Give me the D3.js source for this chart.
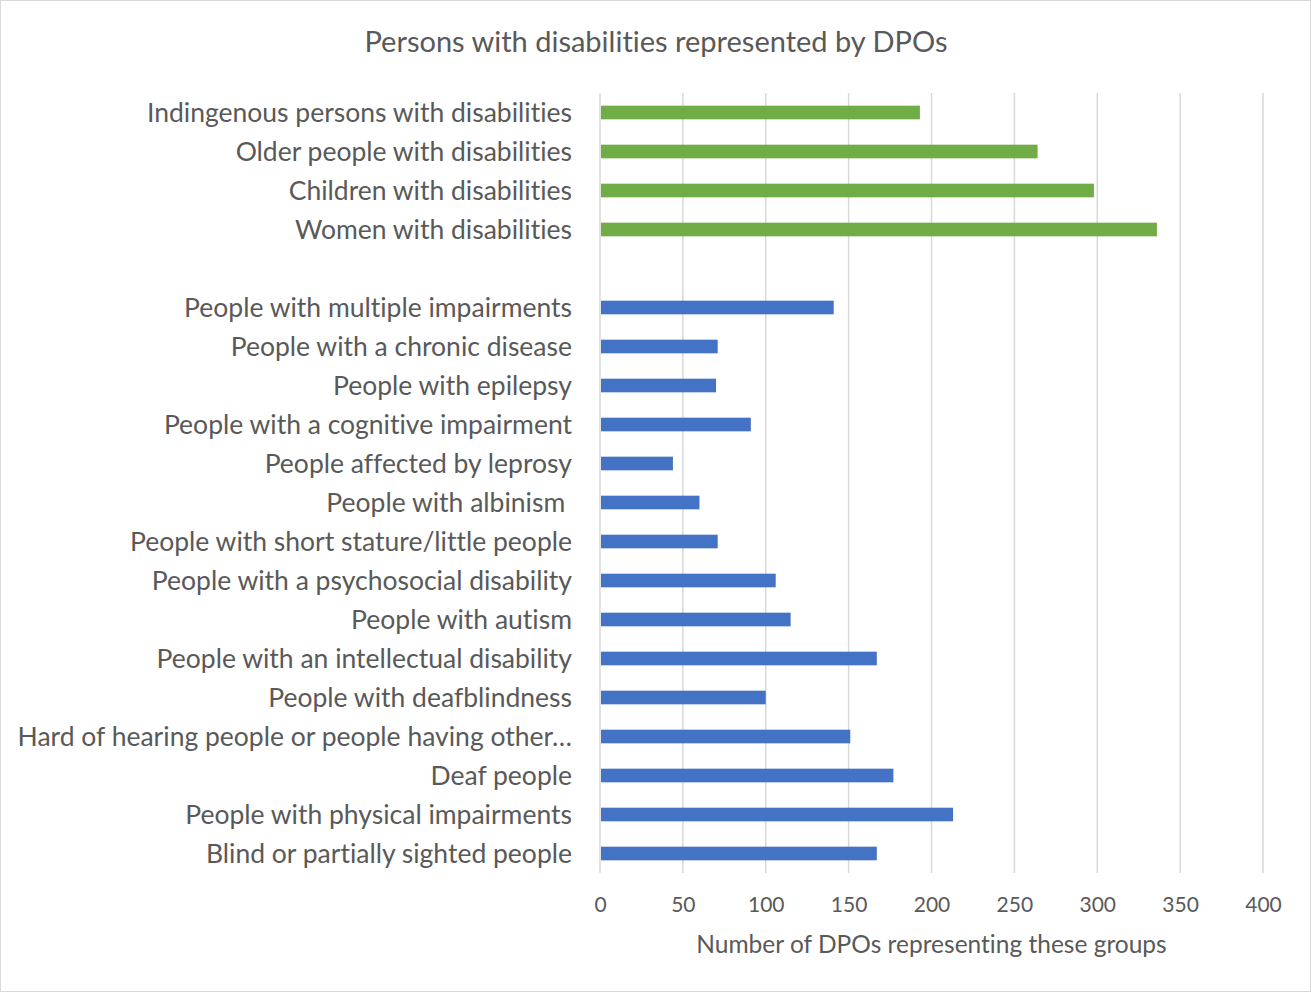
<!DOCTYPE html>
<html>
<head>
<meta charset="utf-8">
<script src="https://cdn.jsdelivr.net/npm/d3@7"></script>
<style>
  html, body { margin: 0; padding: 0; background: #fff; }
  svg { display: block; }
  text { font-family: Lato, "Open Sans", sans-serif; fill: #595959; font-variant-ligatures: none; }
</style>
</head>
<body>
<svg id="chart" width="1311" height="992"></svg>
<script>
const categories = [
  "Indingenous persons with disabilities",
  "Older people with disabilities",
  "Children with disabilities",
  "Women with disabilities",
  "",
  "People with multiple impairments",
  "People with a chronic disease",
  "People with epilepsy",
  "People with a cognitive impairment",
  "People affected by leprosy",
  "People with albinism ",
  "People with short stature/little people",
  "People with a psychosocial disability",
  "People with autism",
  "People with an intellectual disability",
  "People with deafblindness",
  "Hard of hearing people or people having other…",
  "Deaf people",
  "People with physical impairments",
  "Blind or partially sighted people"
];
const values = [193, 264, 298, 336, null, 141, 71, 70, 91, 44, 60, 71, 106, 115, 167, 100, 151, 177, 213, 167];
const groups = ["green", "green", "green", "green", null, "blue", "blue", "blue", "blue", "blue", "blue", "blue", "blue", "blue", "blue", "blue", "blue", "blue", "blue", "blue"];
const xTicks = [0, 50, 100, 150, 200, 250, 300, 350, 400];
const colors = { green: "#70AD47", blue: "#4472C4" };

const svg = d3.select("#chart");
const W = 1311, H = 992;
const plot = { left: 600, right: 1263, top: 93, bottom: 873 };

svg.append("rect").attr("x", 0.5).attr("y", 0.5).attr("width", W - 1).attr("height", H - 1)
  .attr("fill", "#fff").attr("stroke", "#D9D9D9");

const x = d3.scaleLinear().domain([0, 400]).range([plot.left, plot.right]);
const y = d3.scaleBand().domain(d3.range(categories.length)).range([plot.top, plot.bottom]).paddingInner(0.65).paddingOuter(0.325);

// gridlines
svg.append("g").selectAll("line").data(xTicks).join("line")
  .attr("x1", d => x(d)).attr("x2", d => x(d))
  .attr("y1", plot.top).attr("y2", plot.bottom)
  .attr("stroke", "#D9D9D9").attr("stroke-width", 1.5);

// bars
svg.append("g").selectAll("rect").data(values.map((v, i) => ({ v, i }))).join("rect")
  .filter(d => d.v != null)
  .attr("x", x(0) + 1)
  .attr("y", d => y(d.i))
  .attr("width", d => x(d.v) - x(0) - 1)
  .attr("height", y.bandwidth())
  .attr("fill", d => colors[groups[d.i]]);

// category labels
svg.append("g").selectAll("text").data(categories.map((c, i) => ({ c, i }))).join("text")
  .attr("x", plot.left - 28)
  .attr("y", d => y(d.i) + y.bandwidth() / 2)
  .attr("dy", "0.35em")
  .attr("text-anchor", "end")
  .attr("font-size", 26.5)
  .style("white-space", "pre")
  .text(d => d.c);

// x axis tick labels
const xAxis = d3.axisBottom(x).tickValues(xTicks).tickSize(0).tickPadding(0);
const gx = svg.append("g").attr("transform", `translate(0, ${plot.bottom + 32})`).call(xAxis);
gx.select(".domain").remove();
gx.selectAll("text").attr("font-size", 21).attr("dy", "0.35em").style("font-family", "Lato, 'Open Sans', sans-serif").attr("fill", "#595959");

// axis title
svg.append("text").attr("x", 931.5).attr("y", 944).attr("dy", "0.35em")
  .attr("text-anchor", "middle").attr("font-size", 24.5)
  .text("Number of DPOs representing these groups");

// title
svg.append("text").attr("x", 656).attr("y", 42).attr("dy", "0.35em")
  .attr("text-anchor", "middle").attr("font-size", 29)
  .text("Persons with disabilities represented by DPOs");
</script>
</body>
</html>
